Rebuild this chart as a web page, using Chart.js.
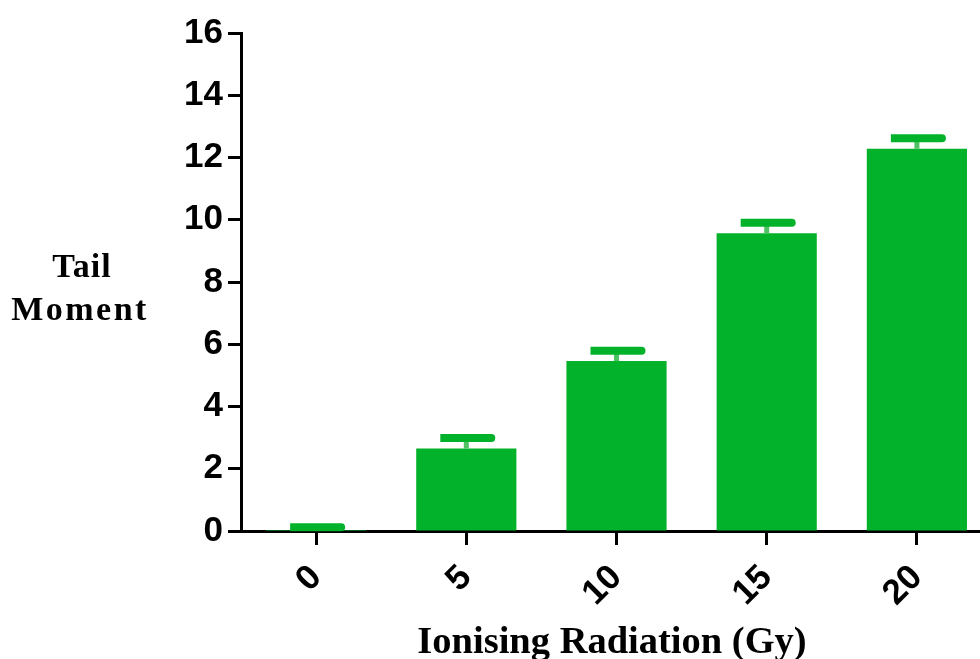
<!DOCTYPE html>
<html>
<head>
<meta charset="utf-8">
<script src="https://cdn.jsdelivr.net/npm/chart.js@4"></script>
<style>
  html, body { margin: 0; padding: 0; background: #fff; }
  #wrap { width: 980px; height: 659px; overflow: hidden; position: relative; }
</style>
</head>
<body>
<div id="wrap">
  <canvas id="tailChart" width="1000" height="659"></canvas>
</div>
<script>
const doses = ['0', '5', '10', '15', '20'];
const tailMoment = [0.03, 2.65, 5.46, 9.57, 12.28];
const tailSem = [0.09, 0.34, 0.33, 0.33, 0.34];
const yTicks = [0, 2, 4, 6, 8, 10, 12, 14, 16];

const green = '#03B22B';

// upward-only error bars: thin stem + thick cap
const errorBars = {
  id: 'errorBars',
  afterDatasetsDraw(chart) {
    const ctx = chart.ctx;
    const yScale = chart.scales.y;
    const meta = chart.getDatasetMeta(0);
    ctx.save();
    meta.data.forEach((bar, i) => {
      const capY = yScale.getPixelForValue(tailMoment[i] + tailSem[i]);
      const x = bar.x;
      ctx.fillStyle = '#4fc263';
      ctx.fillRect(x - 2.5, capY, 5, bar.y - capY);
      ctx.fillStyle = green;
      ctx.beginPath();
      ctx.roundRect(x - 26, capY - 4, 55, 8, [0, 4, 4, 0]);
      ctx.fill();
    });
    ctx.restore();
  }
};

// horizontal axis titles
const axisTitles = {
  id: 'axisTitles',
  afterDraw(chart) {
    const ctx = chart.ctx;
    ctx.save();
    ctx.fillStyle = '#000';
    ctx.textAlign = 'center';
    ctx.textBaseline = 'alphabetic';
    ctx.font = 'bold 34px "Liberation Serif", "Times New Roman", serif';
    ctx.letterSpacing = '1px';
    ctx.fillText('Tail', 82, 277);
    ctx.letterSpacing = '2.5px';
    ctx.fillText('Moment', 80, 320);
    ctx.letterSpacing = '0px';
    ctx.font = 'bold 38.5px "Liberation Serif", "Times New Roman", serif';
    ctx.fillText('Ionising Radiation (Gy)', 612, 653);
    ctx.restore();
  }
};

const tickFont = { family: '"Liberation Sans", Arial, sans-serif', size: 35, weight: 'bold' };

new Chart(document.getElementById('tailChart'), {
  type: 'bar',
  data: {
    labels: doses,
    datasets: [{
      data: tailMoment,
      backgroundColor: green,
      borderWidth: 0,
      barPercentage: 0.667,
      categoryPercentage: 1
    }]
  },
  options: {
    responsive: false,
    devicePixelRatio: 1,
    animation: false,
    layout: { padding: { top: 33, right: 8, left: 0, bottom: 0 } },
    plugins: {
      legend: { display: false },
      tooltip: { enabled: false }
    },
    scales: {
      x: {
        z: 1,
        offset: true,
        grid: {
          offset: false,
          drawOnChartArea: false,
          drawTicks: true,
          tickLength: 14,
          tickWidth: 3,
          tickColor: '#000'
        },
        border: { display: true, color: '#000', width: 3 },
        ticks: {
          color: '#000',
          font: tickFont,
          minRotation: 45,
          maxRotation: 45,
          padding: 12
        },
        afterFit(scale) { scale.height = 128; }
      },
      y: {
        z: 1,
        min: 0,
        max: 16,
        afterBuildTicks(scale) { scale.ticks = yTicks.map(v => ({ value: v })); },
        grid: {
          drawOnChartArea: false,
          drawTicks: true,
          tickLength: 13,
          tickWidth: 3,
          tickColor: '#000'
        },
        border: { display: true, color: '#000', width: 3 },
        ticks: {
          color: '#000',
          font: tickFont,
          padding: 5
        },
        afterFit(scale) { scale.width = 241; }
      }
    }
  },
  plugins: [errorBars, axisTitles]
});
</script>
</body>
</html>
